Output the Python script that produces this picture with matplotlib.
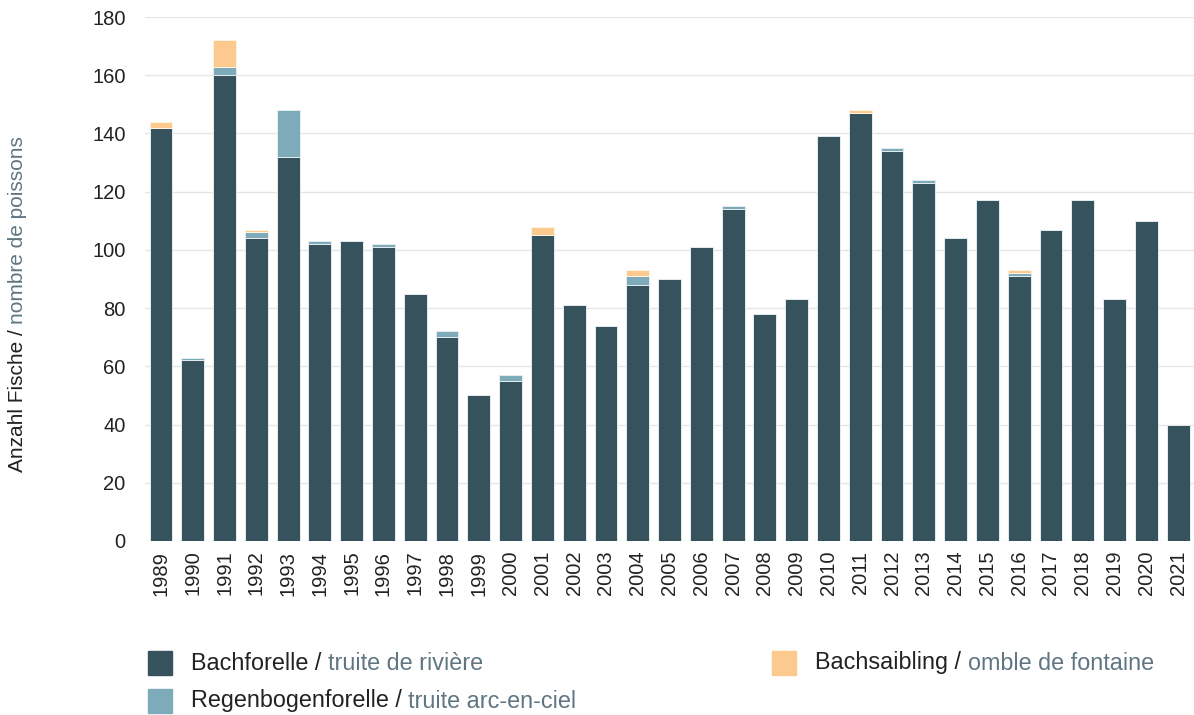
import matplotlib
matplotlib.use("Agg")
import matplotlib.pyplot as plt
from matplotlib.patches import Rectangle
import numpy as np

years = [str(y) for y in range(1989, 2022)]
bachforelle = [142, 62, 160, 104, 132, 102, 103, 101, 85, 70, 50, 55, 105, 81, 74, 88,
               90, 101, 114, 78, 83, 139, 147, 134, 123, 104, 117, 91, 107, 117, 83, 110, 40]
regenbogen = [0, 1, 3, 2, 16, 1, 0, 1, 0, 2, 0, 2, 0, 0, 0, 3,
              0, 0, 1, 0, 0, 0, 0, 1, 1, 0, 0, 1, 0, 0, 0, 0, 0]
bachsaibling = [2, 0, 9, 1, 0, 0, 0, 0, 0, 0, 0, 0, 3, 0, 0, 2,
                0, 0, 0, 0, 0, 0, 1, 0, 0, 0, 0, 1, 0, 0, 0, 0, 0]
yticks = [0, 20, 40, 60, 80, 100, 120, 140, 160, 180]

C_DARK = "#36525c"
C_RAIN = "#7eabb9"
C_SAIB = "#fcca8e"
C_FR = "#5f7682"
C_TXT = "#222222"

plt.rcParams['font.family'] = ['Liberation Sans', 'DejaVu Sans']

fig = plt.figure(figsize=(11.94, 7.15), dpi=100)
ax = fig.add_axes([0.1215, 0.2434, 0.8785, 0.7328])

x = np.arange(len(years))
b = np.array(bachforelle)
r = np.array(regenbogen)
s = np.array(bachsaibling)
w = 0.72

def lw(vals):
    return [0.7 if v > 0 else 0 for v in vals]

ax.bar(x, b, width=w, color=C_DARK, edgecolor="#e4ecef", linewidth=lw(b), zorder=3)
ax.bar(x, r, bottom=b, width=w, color=C_RAIN, edgecolor="#e4ecef", linewidth=lw(r), zorder=3)
ax.bar(x, s, bottom=b + r, width=w, color=C_SAIB, edgecolor="#fff3e3", linewidth=lw(s), zorder=3)

ax.set_xlim(-0.5, len(years) - 0.5)
ax.set_ylim(0, 180)
ax.set_yticks(yticks)
ax.set_yticklabels([str(v) for v in yticks], fontsize=14.5, color=C_TXT)
ax.set_xticks(x)
ax.set_xticklabels(years, rotation=90, fontsize=14.5, color=C_TXT)
ax.tick_params(axis='both', length=0)
ax.tick_params(axis='y', pad=14)
ax.tick_params(axis='x', pad=7)
for sp in ax.spines.values():
    sp.set_visible(False)
ax.grid(axis='y', color='#e6e6e6', linewidth=1, zorder=0)
ax.set_axisbelow(True)

# y label (two colours)
t1 = fig.text(18 / 1194, 1 - 472 / 715, "Anzahl Fische / ", rotation=90,
              ha='center', va='bottom', fontsize=15, color=C_TXT)
ax.annotate("nombre de poissons", xy=(0.5, 1), xycoords=t1, rotation=90,
            ha='center', va='bottom', fontsize=15, color=C_FR)

# legend drawn manually
def legend_item(px, py, color, de, fr):
    fig.patches.append(Rectangle((px / 1194, 1 - (py + 12) / 715), 24 / 1194, 24 / 715,
                                 transform=fig.transFigure, color=color, figure=fig))
    ta = fig.text((px + 43) / 1194, 1 - py / 715, de + " / ", ha='left', va='center',
                  fontsize=16.8, color=C_TXT)
    ax.annotate(fr, xy=(1, 0.5), xycoords=ta, ha='left', va='center',
                fontsize=16.8, color=C_FR)

legend_item(148, 663, C_DARK, "Bachforelle", "truite de rivière")
legend_item(148, 701, C_RAIN, "Regenbogenforelle", "truite arc-en-ciel")
legend_item(772, 663, C_SAIB, "Bachsaibling", "omble de fontaine")

fig.savefig("out.png", dpi=100)
